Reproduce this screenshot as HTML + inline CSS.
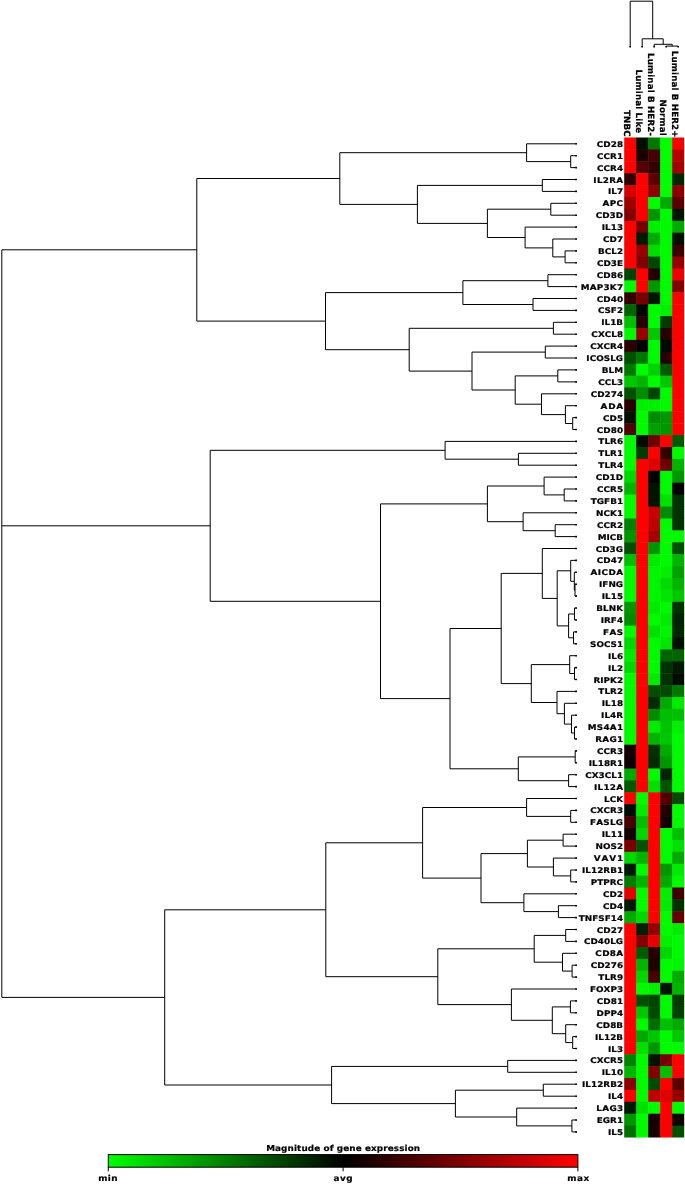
<!DOCTYPE html>
<html lang="en">
<head>
<meta charset="utf-8">
<title>Magnitude of gene expression</title>
<style>
html,body{margin:0;padding:0;background:#fff;}
body{width:685px;height:1184px;overflow:hidden;}
svg{display:block;}
text{font-family:"DejaVu Sans","Liberation Sans",sans-serif;font-weight:bold;font-size:7.8px;fill:#000;stroke:#000;stroke-width:0.2px;font-kerning:none;text-rendering:geometricPrecision;letter-spacing:0.15px;}
.g text{text-anchor:end;}
.c text{text-anchor:end;}
.m text{text-anchor:middle;}
.ln{fill:none;stroke:#000;stroke-width:1;}
.dot{fill:none;stroke:#000;stroke-width:1.6;}
</style>
</head>
<body>
<svg width="685" height="1184" viewBox="0 0 685 1184">
<defs>
<linearGradient id="cb" x1="0" y1="0" x2="1" y2="0">
<stop offset="0" stop-color="#00ff00"/><stop offset="0.5" stop-color="#000000"/><stop offset="1" stop-color="#ff0000"/>
</linearGradient>
</defs>
<rect x="0" y="0" width="685" height="1184" fill="#ffffff"/>
<g>
<rect x="624.2" y="137.5" width="12.5" height="12.4" fill="#ff0000"/><rect x="636.2" y="137.5" width="12.5" height="12.4" fill="#000f00"/><rect x="648.2" y="137.5" width="12.5" height="12.4" fill="#007800"/><rect x="660.2" y="137.5" width="12.5" height="12.4" fill="#00ff00"/><rect x="672.2" y="137.5" width="12" height="12.4" fill="#fa0000"/>
<rect x="624.2" y="149.4" width="12.5" height="12.4" fill="#ff0000"/><rect x="636.2" y="149.4" width="12.5" height="12.4" fill="#1e0000"/><rect x="648.2" y="149.4" width="12.5" height="12.4" fill="#460000"/><rect x="660.2" y="149.4" width="12.5" height="12.4" fill="#00ff00"/><rect x="672.2" y="149.4" width="12" height="12.4" fill="#b90000"/>
<rect x="624.2" y="161.3" width="12.5" height="12.4" fill="#ff0000"/><rect x="636.2" y="161.3" width="12.5" height="12.4" fill="#550000"/><rect x="648.2" y="161.3" width="12.5" height="12.4" fill="#370000"/><rect x="660.2" y="161.3" width="12.5" height="12.4" fill="#00ff00"/><rect x="672.2" y="161.3" width="12" height="12.4" fill="#a50000"/>
<rect x="624.2" y="173.2" width="12.5" height="12.4" fill="#320000"/><rect x="636.2" y="173.2" width="12.5" height="12.4" fill="#ff0000"/><rect x="648.2" y="173.2" width="12.5" height="12.4" fill="#5a0000"/><rect x="660.2" y="173.2" width="12.5" height="12.4" fill="#00ff00"/><rect x="672.2" y="173.2" width="12" height="12.4" fill="#002800"/>
<rect x="624.2" y="185.1" width="12.5" height="12.4" fill="#d70000"/><rect x="636.2" y="185.1" width="12.5" height="12.4" fill="#ff0000"/><rect x="648.2" y="185.1" width="12.5" height="12.4" fill="#8c0000"/><rect x="660.2" y="185.1" width="12.5" height="12.4" fill="#00ff00"/><rect x="672.2" y="185.1" width="12" height="12.4" fill="#8c0000"/>
<rect x="624.2" y="197" width="12.5" height="12.4" fill="#a00000"/><rect x="636.2" y="197" width="12.5" height="12.4" fill="#ff0000"/><rect x="648.2" y="197" width="12.5" height="12.4" fill="#00fa00"/><rect x="660.2" y="197" width="12.5" height="12.4" fill="#00aa00"/><rect x="672.2" y="197" width="12" height="12.4" fill="#5a0000"/>
<rect x="624.2" y="208.9" width="12.5" height="12.4" fill="#820000"/><rect x="636.2" y="208.9" width="12.5" height="12.4" fill="#ff0000"/><rect x="648.2" y="208.9" width="12.5" height="12.4" fill="#009600"/><rect x="660.2" y="208.9" width="12.5" height="12.4" fill="#00fa00"/><rect x="672.2" y="208.9" width="12" height="12.4" fill="#001400"/>
<rect x="624.2" y="220.8" width="12.5" height="12.4" fill="#ff0000"/><rect x="636.2" y="220.8" width="12.5" height="12.4" fill="#780000"/><rect x="648.2" y="220.8" width="12.5" height="12.4" fill="#00f000"/><rect x="660.2" y="220.8" width="12.5" height="12.4" fill="#00fa00"/><rect x="672.2" y="220.8" width="12" height="12.4" fill="#00aa00"/>
<rect x="624.2" y="232.7" width="12.5" height="12.4" fill="#ff0000"/><rect x="636.2" y="232.7" width="12.5" height="12.4" fill="#001900"/><rect x="648.2" y="232.7" width="12.5" height="12.4" fill="#00aa00"/><rect x="660.2" y="232.7" width="12.5" height="12.4" fill="#00fa00"/><rect x="672.2" y="232.7" width="12" height="12.4" fill="#000f00"/>
<rect x="624.2" y="244.6" width="12.5" height="12.4" fill="#ff0000"/><rect x="636.2" y="244.6" width="12.5" height="12.4" fill="#960000"/><rect x="648.2" y="244.6" width="12.5" height="12.4" fill="#00dc00"/><rect x="660.2" y="244.6" width="12.5" height="12.4" fill="#00fa00"/><rect x="672.2" y="244.6" width="12" height="12.4" fill="#3c0000"/>
<rect x="624.2" y="256.6" width="12.5" height="12.4" fill="#ff0000"/><rect x="636.2" y="256.6" width="12.5" height="12.4" fill="#820000"/><rect x="648.2" y="256.6" width="12.5" height="12.4" fill="#004600"/><rect x="660.2" y="256.6" width="12.5" height="12.4" fill="#00fa00"/><rect x="672.2" y="256.6" width="12" height="12.4" fill="#960000"/>
<rect x="624.2" y="268.5" width="12.5" height="12.4" fill="#004600"/><rect x="636.2" y="268.5" width="12.5" height="12.4" fill="#ff0000"/><rect x="648.2" y="268.5" width="12.5" height="12.4" fill="#230000"/><rect x="660.2" y="268.5" width="12.5" height="12.4" fill="#00fa00"/><rect x="672.2" y="268.5" width="12" height="12.4" fill="#f00000"/>
<rect x="624.2" y="280.4" width="12.5" height="12.4" fill="#00fa00"/><rect x="636.2" y="280.4" width="12.5" height="12.4" fill="#ff0000"/><rect x="648.2" y="280.4" width="12.5" height="12.4" fill="#009600"/><rect x="660.2" y="280.4" width="12.5" height="12.4" fill="#00fa00"/><rect x="672.2" y="280.4" width="12" height="12.4" fill="#820000"/>
<rect x="624.2" y="292.3" width="12.5" height="12.4" fill="#320000"/><rect x="636.2" y="292.3" width="12.5" height="12.4" fill="#780000"/><rect x="648.2" y="292.3" width="12.5" height="12.4" fill="#001400"/><rect x="660.2" y="292.3" width="12.5" height="12.4" fill="#00fa00"/><rect x="672.2" y="292.3" width="12" height="12.4" fill="#ff0000"/>
<rect x="624.2" y="304.2" width="12.5" height="12.4" fill="#006400"/><rect x="636.2" y="304.2" width="12.5" height="12.4" fill="#000800"/><rect x="648.2" y="304.2" width="12.5" height="12.4" fill="#00fa00"/><rect x="660.2" y="304.2" width="12.5" height="12.4" fill="#00f000"/><rect x="672.2" y="304.2" width="12" height="12.4" fill="#ff0000"/>
<rect x="624.2" y="316.1" width="12.5" height="12.4" fill="#00be00"/><rect x="636.2" y="316.1" width="12.5" height="12.4" fill="#280000"/><rect x="648.2" y="316.1" width="12.5" height="12.4" fill="#00fa00"/><rect x="660.2" y="316.1" width="12.5" height="12.4" fill="#003c00"/><rect x="672.2" y="316.1" width="12" height="12.4" fill="#ff0000"/>
<rect x="624.2" y="328" width="12.5" height="12.4" fill="#00fa00"/><rect x="636.2" y="328" width="12.5" height="12.4" fill="#960000"/><rect x="648.2" y="328" width="12.5" height="12.4" fill="#00c800"/><rect x="660.2" y="328" width="12.5" height="12.4" fill="#280000"/><rect x="672.2" y="328" width="12" height="12.4" fill="#ff0000"/>
<rect x="624.2" y="339.9" width="12.5" height="12.4" fill="#2d0000"/><rect x="636.2" y="339.9" width="12.5" height="12.4" fill="#000000"/><rect x="648.2" y="339.9" width="12.5" height="12.4" fill="#00fa00"/><rect x="660.2" y="339.9" width="12.5" height="12.4" fill="#000a00"/><rect x="672.2" y="339.9" width="12" height="12.4" fill="#ff0000"/>
<rect x="624.2" y="351.8" width="12.5" height="12.4" fill="#005000"/><rect x="636.2" y="351.8" width="12.5" height="12.4" fill="#007800"/><rect x="648.2" y="351.8" width="12.5" height="12.4" fill="#00fa00"/><rect x="660.2" y="351.8" width="12.5" height="12.4" fill="#280000"/><rect x="672.2" y="351.8" width="12" height="12.4" fill="#ff0000"/>
<rect x="624.2" y="363.7" width="12.5" height="12.4" fill="#007800"/><rect x="636.2" y="363.7" width="12.5" height="12.4" fill="#00fa00"/><rect x="648.2" y="363.7" width="12.5" height="12.4" fill="#00d200"/><rect x="660.2" y="363.7" width="12.5" height="12.4" fill="#005a00"/><rect x="672.2" y="363.7" width="12" height="12.4" fill="#ff0000"/>
<rect x="624.2" y="375.6" width="12.5" height="12.4" fill="#00c800"/><rect x="636.2" y="375.6" width="12.5" height="12.4" fill="#00b400"/><rect x="648.2" y="375.6" width="12.5" height="12.4" fill="#00fa00"/><rect x="660.2" y="375.6" width="12.5" height="12.4" fill="#00c800"/><rect x="672.2" y="375.6" width="12" height="12.4" fill="#ff0000"/>
<rect x="624.2" y="387.5" width="12.5" height="12.4" fill="#005000"/><rect x="636.2" y="387.5" width="12.5" height="12.4" fill="#008c00"/><rect x="648.2" y="387.5" width="12.5" height="12.4" fill="#004600"/><rect x="660.2" y="387.5" width="12.5" height="12.4" fill="#00fa00"/><rect x="672.2" y="387.5" width="12" height="12.4" fill="#ff0000"/>
<rect x="624.2" y="399.4" width="12.5" height="12.4" fill="#280000"/><rect x="636.2" y="399.4" width="12.5" height="12.4" fill="#00f000"/><rect x="648.2" y="399.4" width="12.5" height="12.4" fill="#00f000"/><rect x="660.2" y="399.4" width="12.5" height="12.4" fill="#00fa00"/><rect x="672.2" y="399.4" width="12" height="12.4" fill="#ff0000"/>
<rect x="624.2" y="411.3" width="12.5" height="12.4" fill="#000f00"/><rect x="636.2" y="411.3" width="12.5" height="12.4" fill="#00fa00"/><rect x="648.2" y="411.3" width="12.5" height="12.4" fill="#008c00"/><rect x="660.2" y="411.3" width="12.5" height="12.4" fill="#009600"/><rect x="672.2" y="411.3" width="12" height="12.4" fill="#ff0000"/>
<rect x="624.2" y="423.2" width="12.5" height="12.4" fill="#500000"/><rect x="636.2" y="423.2" width="12.5" height="12.4" fill="#00fa00"/><rect x="648.2" y="423.2" width="12.5" height="12.4" fill="#00a000"/><rect x="660.2" y="423.2" width="12.5" height="12.4" fill="#009600"/><rect x="672.2" y="423.2" width="12" height="12.4" fill="#ff0000"/>
<rect x="624.2" y="435.1" width="12.5" height="12.4" fill="#00fa00"/><rect x="636.2" y="435.1" width="12.5" height="12.4" fill="#000c00"/><rect x="648.2" y="435.1" width="12.5" height="12.4" fill="#6e0000"/><rect x="660.2" y="435.1" width="12.5" height="12.4" fill="#ff0000"/><rect x="672.2" y="435.1" width="12" height="12.4" fill="#005a00"/>
<rect x="624.2" y="447" width="12.5" height="12.4" fill="#00fa00"/><rect x="636.2" y="447" width="12.5" height="12.4" fill="#003c00"/><rect x="648.2" y="447" width="12.5" height="12.4" fill="#ff0000"/><rect x="660.2" y="447" width="12.5" height="12.4" fill="#320000"/><rect x="672.2" y="447" width="12" height="12.4" fill="#00fa00"/>
<rect x="624.2" y="458.9" width="12.5" height="12.4" fill="#00fa00"/><rect x="636.2" y="458.9" width="12.5" height="12.4" fill="#ff0000"/><rect x="648.2" y="458.9" width="12.5" height="12.4" fill="#dc0000"/><rect x="660.2" y="458.9" width="12.5" height="12.4" fill="#6e0000"/><rect x="672.2" y="458.9" width="12" height="12.4" fill="#00b400"/>
<rect x="624.2" y="470.8" width="12.5" height="12.4" fill="#00d700"/><rect x="636.2" y="470.8" width="12.5" height="12.4" fill="#ff0000"/><rect x="648.2" y="470.8" width="12.5" height="12.4" fill="#000000"/><rect x="660.2" y="470.8" width="12.5" height="12.4" fill="#00fa00"/><rect x="672.2" y="470.8" width="12" height="12.4" fill="#009600"/>
<rect x="624.2" y="482.7" width="12.5" height="12.4" fill="#00b400"/><rect x="636.2" y="482.7" width="12.5" height="12.4" fill="#ff0000"/><rect x="648.2" y="482.7" width="12.5" height="12.4" fill="#001400"/><rect x="660.2" y="482.7" width="12.5" height="12.4" fill="#00fa00"/><rect x="672.2" y="482.7" width="12" height="12.4" fill="#000000"/>
<rect x="624.2" y="494.6" width="12.5" height="12.4" fill="#00fa00"/><rect x="636.2" y="494.6" width="12.5" height="12.4" fill="#ff0000"/><rect x="648.2" y="494.6" width="12.5" height="12.4" fill="#001400"/><rect x="660.2" y="494.6" width="12.5" height="12.4" fill="#00e100"/><rect x="672.2" y="494.6" width="12" height="12.4" fill="#003200"/>
<rect x="624.2" y="506.6" width="12.5" height="12.4" fill="#00fa00"/><rect x="636.2" y="506.6" width="12.5" height="12.4" fill="#ff0000"/><rect x="648.2" y="506.6" width="12.5" height="12.4" fill="#c80000"/><rect x="660.2" y="506.6" width="12.5" height="12.4" fill="#008c00"/><rect x="672.2" y="506.6" width="12" height="12.4" fill="#003200"/>
<rect x="624.2" y="518.5" width="12.5" height="12.4" fill="#008200"/><rect x="636.2" y="518.5" width="12.5" height="12.4" fill="#ff0000"/><rect x="648.2" y="518.5" width="12.5" height="12.4" fill="#be0000"/><rect x="660.2" y="518.5" width="12.5" height="12.4" fill="#00fa00"/><rect x="672.2" y="518.5" width="12" height="12.4" fill="#003200"/>
<rect x="624.2" y="530.4" width="12.5" height="12.4" fill="#009600"/><rect x="636.2" y="530.4" width="12.5" height="12.4" fill="#ff0000"/><rect x="648.2" y="530.4" width="12.5" height="12.4" fill="#a50000"/><rect x="660.2" y="530.4" width="12.5" height="12.4" fill="#00fa00"/><rect x="672.2" y="530.4" width="12" height="12.4" fill="#00fa00"/>
<rect x="624.2" y="542.3" width="12.5" height="12.4" fill="#005000"/><rect x="636.2" y="542.3" width="12.5" height="12.4" fill="#ff0000"/><rect x="648.2" y="542.3" width="12.5" height="12.4" fill="#009600"/><rect x="660.2" y="542.3" width="12.5" height="12.4" fill="#00fa00"/><rect x="672.2" y="542.3" width="12" height="12.4" fill="#005000"/>
<rect x="624.2" y="554.2" width="12.5" height="12.4" fill="#00be00"/><rect x="636.2" y="554.2" width="12.5" height="12.4" fill="#ff0000"/><rect x="648.2" y="554.2" width="12.5" height="12.4" fill="#00eb00"/><rect x="660.2" y="554.2" width="12.5" height="12.4" fill="#00fa00"/><rect x="672.2" y="554.2" width="12" height="12.4" fill="#00b400"/>
<rect x="624.2" y="566.1" width="12.5" height="12.4" fill="#00fa00"/><rect x="636.2" y="566.1" width="12.5" height="12.4" fill="#ff0000"/><rect x="648.2" y="566.1" width="12.5" height="12.4" fill="#00f500"/><rect x="660.2" y="566.1" width="12.5" height="12.4" fill="#00f000"/><rect x="672.2" y="566.1" width="12" height="12.4" fill="#00a000"/>
<rect x="624.2" y="578" width="12.5" height="12.4" fill="#00fa00"/><rect x="636.2" y="578" width="12.5" height="12.4" fill="#ff0000"/><rect x="648.2" y="578" width="12.5" height="12.4" fill="#00f500"/><rect x="660.2" y="578" width="12.5" height="12.4" fill="#00dc00"/><rect x="672.2" y="578" width="12" height="12.4" fill="#00b400"/>
<rect x="624.2" y="589.9" width="12.5" height="12.4" fill="#00fa00"/><rect x="636.2" y="589.9" width="12.5" height="12.4" fill="#ff0000"/><rect x="648.2" y="589.9" width="12.5" height="12.4" fill="#00f500"/><rect x="660.2" y="589.9" width="12.5" height="12.4" fill="#00e600"/><rect x="672.2" y="589.9" width="12" height="12.4" fill="#00c800"/>
<rect x="624.2" y="601.8" width="12.5" height="12.4" fill="#009600"/><rect x="636.2" y="601.8" width="12.5" height="12.4" fill="#ff0000"/><rect x="648.2" y="601.8" width="12.5" height="12.4" fill="#00eb00"/><rect x="660.2" y="601.8" width="12.5" height="12.4" fill="#00fa00"/><rect x="672.2" y="601.8" width="12" height="12.4" fill="#003200"/>
<rect x="624.2" y="613.7" width="12.5" height="12.4" fill="#008c00"/><rect x="636.2" y="613.7" width="12.5" height="12.4" fill="#ff0000"/><rect x="648.2" y="613.7" width="12.5" height="12.4" fill="#00fa00"/><rect x="660.2" y="613.7" width="12.5" height="12.4" fill="#00eb00"/><rect x="672.2" y="613.7" width="12" height="12.4" fill="#002300"/>
<rect x="624.2" y="625.6" width="12.5" height="12.4" fill="#00fa00"/><rect x="636.2" y="625.6" width="12.5" height="12.4" fill="#ff0000"/><rect x="648.2" y="625.6" width="12.5" height="12.4" fill="#00e100"/><rect x="660.2" y="625.6" width="12.5" height="12.4" fill="#00f500"/><rect x="672.2" y="625.6" width="12" height="12.4" fill="#002800"/>
<rect x="624.2" y="637.5" width="12.5" height="12.4" fill="#00d700"/><rect x="636.2" y="637.5" width="12.5" height="12.4" fill="#ff0000"/><rect x="648.2" y="637.5" width="12.5" height="12.4" fill="#00fa00"/><rect x="660.2" y="637.5" width="12.5" height="12.4" fill="#00e600"/><rect x="672.2" y="637.5" width="12" height="12.4" fill="#000f00"/>
<rect x="624.2" y="649.4" width="12.5" height="12.4" fill="#00eb00"/><rect x="636.2" y="649.4" width="12.5" height="12.4" fill="#ff0000"/><rect x="648.2" y="649.4" width="12.5" height="12.4" fill="#00fa00"/><rect x="660.2" y="649.4" width="12.5" height="12.4" fill="#006400"/><rect x="672.2" y="649.4" width="12" height="12.4" fill="#006400"/>
<rect x="624.2" y="661.3" width="12.5" height="12.4" fill="#00d700"/><rect x="636.2" y="661.3" width="12.5" height="12.4" fill="#ff0000"/><rect x="648.2" y="661.3" width="12.5" height="12.4" fill="#00fa00"/><rect x="660.2" y="661.3" width="12.5" height="12.4" fill="#003200"/><rect x="672.2" y="661.3" width="12" height="12.4" fill="#001900"/>
<rect x="624.2" y="673.2" width="12.5" height="12.4" fill="#00fa00"/><rect x="636.2" y="673.2" width="12.5" height="12.4" fill="#ff0000"/><rect x="648.2" y="673.2" width="12.5" height="12.4" fill="#00eb00"/><rect x="660.2" y="673.2" width="12.5" height="12.4" fill="#003200"/><rect x="672.2" y="673.2" width="12" height="12.4" fill="#000c00"/>
<rect x="624.2" y="685.1" width="12.5" height="12.4" fill="#00fa00"/><rect x="636.2" y="685.1" width="12.5" height="12.4" fill="#ff0000"/><rect x="648.2" y="685.1" width="12.5" height="12.4" fill="#005000"/><rect x="660.2" y="685.1" width="12.5" height="12.4" fill="#004b00"/><rect x="672.2" y="685.1" width="12" height="12.4" fill="#007800"/>
<rect x="624.2" y="697" width="12.5" height="12.4" fill="#00fa00"/><rect x="636.2" y="697" width="12.5" height="12.4" fill="#ff0000"/><rect x="648.2" y="697" width="12.5" height="12.4" fill="#002d00"/><rect x="660.2" y="697" width="12.5" height="12.4" fill="#00aa00"/><rect x="672.2" y="697" width="12" height="12.4" fill="#00eb00"/>
<rect x="624.2" y="708.9" width="12.5" height="12.4" fill="#00fa00"/><rect x="636.2" y="708.9" width="12.5" height="12.4" fill="#ff0000"/><rect x="648.2" y="708.9" width="12.5" height="12.4" fill="#008c00"/><rect x="660.2" y="708.9" width="12.5" height="12.4" fill="#00be00"/><rect x="672.2" y="708.9" width="12" height="12.4" fill="#00be00"/>
<rect x="624.2" y="720.8" width="12.5" height="12.4" fill="#00fa00"/><rect x="636.2" y="720.8" width="12.5" height="12.4" fill="#ff0000"/><rect x="648.2" y="720.8" width="12.5" height="12.4" fill="#00eb00"/><rect x="660.2" y="720.8" width="12.5" height="12.4" fill="#00c300"/><rect x="672.2" y="720.8" width="12" height="12.4" fill="#00f000"/>
<rect x="624.2" y="732.8" width="12.5" height="12.4" fill="#00fa00"/><rect x="636.2" y="732.8" width="12.5" height="12.4" fill="#ff0000"/><rect x="648.2" y="732.8" width="12.5" height="12.4" fill="#00b400"/><rect x="660.2" y="732.8" width="12.5" height="12.4" fill="#00c800"/><rect x="672.2" y="732.8" width="12" height="12.4" fill="#00fa00"/>
<rect x="624.2" y="744.7" width="12.5" height="12.4" fill="#190000"/><rect x="636.2" y="744.7" width="12.5" height="12.4" fill="#ff0000"/><rect x="648.2" y="744.7" width="12.5" height="12.4" fill="#003200"/><rect x="660.2" y="744.7" width="12.5" height="12.4" fill="#00aa00"/><rect x="672.2" y="744.7" width="12" height="12.4" fill="#00fa00"/>
<rect x="624.2" y="756.6" width="12.5" height="12.4" fill="#0f0000"/><rect x="636.2" y="756.6" width="12.5" height="12.4" fill="#ff0000"/><rect x="648.2" y="756.6" width="12.5" height="12.4" fill="#002d00"/><rect x="660.2" y="756.6" width="12.5" height="12.4" fill="#009600"/><rect x="672.2" y="756.6" width="12" height="12.4" fill="#00fa00"/>
<rect x="624.2" y="768.5" width="12.5" height="12.4" fill="#00aa00"/><rect x="636.2" y="768.5" width="12.5" height="12.4" fill="#ff0000"/><rect x="648.2" y="768.5" width="12.5" height="12.4" fill="#00fa00"/><rect x="660.2" y="768.5" width="12.5" height="12.4" fill="#002300"/><rect x="672.2" y="768.5" width="12" height="12.4" fill="#00fa00"/>
<rect x="624.2" y="780.4" width="12.5" height="12.4" fill="#005a00"/><rect x="636.2" y="780.4" width="12.5" height="12.4" fill="#ff0000"/><rect x="648.2" y="780.4" width="12.5" height="12.4" fill="#00e100"/><rect x="660.2" y="780.4" width="12.5" height="12.4" fill="#005500"/><rect x="672.2" y="780.4" width="12" height="12.4" fill="#00fa00"/>
<rect x="624.2" y="792.3" width="12.5" height="12.4" fill="#ff0000"/><rect x="636.2" y="792.3" width="12.5" height="12.4" fill="#00fa00"/><rect x="648.2" y="792.3" width="12.5" height="12.4" fill="#ff0000"/><rect x="660.2" y="792.3" width="12.5" height="12.4" fill="#500000"/><rect x="672.2" y="792.3" width="12" height="12.4" fill="#004b00"/>
<rect x="624.2" y="804.2" width="12.5" height="12.4" fill="#000c00"/><rect x="636.2" y="804.2" width="12.5" height="12.4" fill="#00eb00"/><rect x="648.2" y="804.2" width="12.5" height="12.4" fill="#ff0000"/><rect x="660.2" y="804.2" width="12.5" height="12.4" fill="#230000"/><rect x="672.2" y="804.2" width="12" height="12.4" fill="#00fa00"/>
<rect x="624.2" y="816.1" width="12.5" height="12.4" fill="#460000"/><rect x="636.2" y="816.1" width="12.5" height="12.4" fill="#00be00"/><rect x="648.2" y="816.1" width="12.5" height="12.4" fill="#ff0000"/><rect x="660.2" y="816.1" width="12.5" height="12.4" fill="#140000"/><rect x="672.2" y="816.1" width="12" height="12.4" fill="#00fa00"/>
<rect x="624.2" y="828" width="12.5" height="12.4" fill="#140000"/><rect x="636.2" y="828" width="12.5" height="12.4" fill="#00d700"/><rect x="648.2" y="828" width="12.5" height="12.4" fill="#ff0000"/><rect x="660.2" y="828" width="12.5" height="12.4" fill="#00fa00"/><rect x="672.2" y="828" width="12" height="12.4" fill="#00be00"/>
<rect x="624.2" y="839.9" width="12.5" height="12.4" fill="#780000"/><rect x="636.2" y="839.9" width="12.5" height="12.4" fill="#005500"/><rect x="648.2" y="839.9" width="12.5" height="12.4" fill="#ff0000"/><rect x="660.2" y="839.9" width="12.5" height="12.4" fill="#00fa00"/><rect x="672.2" y="839.9" width="12" height="12.4" fill="#00e100"/>
<rect x="624.2" y="851.8" width="12.5" height="12.4" fill="#00d700"/><rect x="636.2" y="851.8" width="12.5" height="12.4" fill="#00b400"/><rect x="648.2" y="851.8" width="12.5" height="12.4" fill="#ff0000"/><rect x="660.2" y="851.8" width="12.5" height="12.4" fill="#00fa00"/><rect x="672.2" y="851.8" width="12" height="12.4" fill="#00aa00"/>
<rect x="624.2" y="863.7" width="12.5" height="12.4" fill="#001900"/><rect x="636.2" y="863.7" width="12.5" height="12.4" fill="#00fa00"/><rect x="648.2" y="863.7" width="12.5" height="12.4" fill="#ff0000"/><rect x="660.2" y="863.7" width="12.5" height="12.4" fill="#009600"/><rect x="672.2" y="863.7" width="12" height="12.4" fill="#00eb00"/>
<rect x="624.2" y="875.6" width="12.5" height="12.4" fill="#007d00"/><rect x="636.2" y="875.6" width="12.5" height="12.4" fill="#00b400"/><rect x="648.2" y="875.6" width="12.5" height="12.4" fill="#ff0000"/><rect x="660.2" y="875.6" width="12.5" height="12.4" fill="#00aa00"/><rect x="672.2" y="875.6" width="12" height="12.4" fill="#00fa00"/>
<rect x="624.2" y="887.5" width="12.5" height="12.4" fill="#e60000"/><rect x="636.2" y="887.5" width="12.5" height="12.4" fill="#00fa00"/><rect x="648.2" y="887.5" width="12.5" height="12.4" fill="#ff0000"/><rect x="660.2" y="887.5" width="12.5" height="12.4" fill="#00f000"/><rect x="672.2" y="887.5" width="12" height="12.4" fill="#410000"/>
<rect x="624.2" y="899.4" width="12.5" height="12.4" fill="#001900"/><rect x="636.2" y="899.4" width="12.5" height="12.4" fill="#00fa00"/><rect x="648.2" y="899.4" width="12.5" height="12.4" fill="#ff0000"/><rect x="660.2" y="899.4" width="12.5" height="12.4" fill="#00eb00"/><rect x="672.2" y="899.4" width="12" height="12.4" fill="#003200"/>
<rect x="624.2" y="911.3" width="12.5" height="12.4" fill="#00aa00"/><rect x="636.2" y="911.3" width="12.5" height="12.4" fill="#00d700"/><rect x="648.2" y="911.3" width="12.5" height="12.4" fill="#ff0000"/><rect x="660.2" y="911.3" width="12.5" height="12.4" fill="#00fa00"/><rect x="672.2" y="911.3" width="12" height="12.4" fill="#640000"/>
<rect x="624.2" y="923.2" width="12.5" height="12.4" fill="#ff0000"/><rect x="636.2" y="923.2" width="12.5" height="12.4" fill="#001e00"/><rect x="648.2" y="923.2" width="12.5" height="12.4" fill="#960000"/><rect x="660.2" y="923.2" width="12.5" height="12.4" fill="#00fa00"/><rect x="672.2" y="923.2" width="12" height="12.4" fill="#00eb00"/>
<rect x="624.2" y="935.1" width="12.5" height="12.4" fill="#ff0000"/><rect x="636.2" y="935.1" width="12.5" height="12.4" fill="#820000"/><rect x="648.2" y="935.1" width="12.5" height="12.4" fill="#e60000"/><rect x="660.2" y="935.1" width="12.5" height="12.4" fill="#00f000"/><rect x="672.2" y="935.1" width="12" height="12.4" fill="#00fa00"/>
<rect x="624.2" y="947" width="12.5" height="12.4" fill="#ff0000"/><rect x="636.2" y="947" width="12.5" height="12.4" fill="#005a00"/><rect x="648.2" y="947" width="12.5" height="12.4" fill="#280000"/><rect x="660.2" y="947" width="12.5" height="12.4" fill="#00d700"/><rect x="672.2" y="947" width="12" height="12.4" fill="#00fa00"/>
<rect x="624.2" y="958.9" width="12.5" height="12.4" fill="#ff0000"/><rect x="636.2" y="958.9" width="12.5" height="12.4" fill="#00b400"/><rect x="648.2" y="958.9" width="12.5" height="12.4" fill="#230000"/><rect x="660.2" y="958.9" width="12.5" height="12.4" fill="#00fa00"/><rect x="672.2" y="958.9" width="12" height="12.4" fill="#00f500"/>
<rect x="624.2" y="970.8" width="12.5" height="12.4" fill="#ff0000"/><rect x="636.2" y="970.8" width="12.5" height="12.4" fill="#00d700"/><rect x="648.2" y="970.8" width="12.5" height="12.4" fill="#4b0000"/><rect x="660.2" y="970.8" width="12.5" height="12.4" fill="#00fa00"/><rect x="672.2" y="970.8" width="12" height="12.4" fill="#00aa00"/>
<rect x="624.2" y="982.8" width="12.5" height="12.4" fill="#ff0000"/><rect x="636.2" y="982.8" width="12.5" height="12.4" fill="#00fa00"/><rect x="648.2" y="982.8" width="12.5" height="12.4" fill="#00f000"/><rect x="660.2" y="982.8" width="12.5" height="12.4" fill="#001400"/><rect x="672.2" y="982.8" width="12" height="12.4" fill="#00b400"/>
<rect x="624.2" y="994.7" width="12.5" height="12.4" fill="#ff0000"/><rect x="636.2" y="994.7" width="12.5" height="12.4" fill="#005000"/><rect x="648.2" y="994.7" width="12.5" height="12.4" fill="#004600"/><rect x="660.2" y="994.7" width="12.5" height="12.4" fill="#00fa00"/><rect x="672.2" y="994.7" width="12" height="12.4" fill="#003c00"/>
<rect x="624.2" y="1006.6" width="12.5" height="12.4" fill="#ff0000"/><rect x="636.2" y="1006.6" width="12.5" height="12.4" fill="#00c800"/><rect x="648.2" y="1006.6" width="12.5" height="12.4" fill="#004b00"/><rect x="660.2" y="1006.6" width="12.5" height="12.4" fill="#00fa00"/><rect x="672.2" y="1006.6" width="12" height="12.4" fill="#004100"/>
<rect x="624.2" y="1018.5" width="12.5" height="12.4" fill="#ff0000"/><rect x="636.2" y="1018.5" width="12.5" height="12.4" fill="#00fa00"/><rect x="648.2" y="1018.5" width="12.5" height="12.4" fill="#006e00"/><rect x="660.2" y="1018.5" width="12.5" height="12.4" fill="#00be00"/><rect x="672.2" y="1018.5" width="12" height="12.4" fill="#00aa00"/>
<rect x="624.2" y="1030.4" width="12.5" height="12.4" fill="#ff0000"/><rect x="636.2" y="1030.4" width="12.5" height="12.4" fill="#00aa00"/><rect x="648.2" y="1030.4" width="12.5" height="12.4" fill="#00c800"/><rect x="660.2" y="1030.4" width="12.5" height="12.4" fill="#00fa00"/><rect x="672.2" y="1030.4" width="12" height="12.4" fill="#00c800"/>
<rect x="624.2" y="1042.3" width="12.5" height="12.4" fill="#ff0000"/><rect x="636.2" y="1042.3" width="12.5" height="12.4" fill="#00e100"/><rect x="648.2" y="1042.3" width="12.5" height="12.4" fill="#009600"/><rect x="660.2" y="1042.3" width="12.5" height="12.4" fill="#00fa00"/><rect x="672.2" y="1042.3" width="12" height="12.4" fill="#00fa00"/>
<rect x="624.2" y="1054.2" width="12.5" height="12.4" fill="#008200"/><rect x="636.2" y="1054.2" width="12.5" height="12.4" fill="#00fa00"/><rect x="648.2" y="1054.2" width="12.5" height="12.4" fill="#001400"/><rect x="660.2" y="1054.2" width="12.5" height="12.4" fill="#780000"/><rect x="672.2" y="1054.2" width="12" height="12.4" fill="#ff0000"/>
<rect x="624.2" y="1066.1" width="12.5" height="12.4" fill="#00b400"/><rect x="636.2" y="1066.1" width="12.5" height="12.4" fill="#00fa00"/><rect x="648.2" y="1066.1" width="12.5" height="12.4" fill="#820000"/><rect x="660.2" y="1066.1" width="12.5" height="12.4" fill="#00be00"/><rect x="672.2" y="1066.1" width="12" height="12.4" fill="#ff0000"/>
<rect x="624.2" y="1078" width="12.5" height="12.4" fill="#8c0000"/><rect x="636.2" y="1078" width="12.5" height="12.4" fill="#00fa00"/><rect x="648.2" y="1078" width="12.5" height="12.4" fill="#004b00"/><rect x="660.2" y="1078" width="12.5" height="12.4" fill="#ff0000"/><rect x="672.2" y="1078" width="12" height="12.4" fill="#5a0000"/>
<rect x="624.2" y="1089.9" width="12.5" height="12.4" fill="#ff0000"/><rect x="636.2" y="1089.9" width="12.5" height="12.4" fill="#00fa00"/><rect x="648.2" y="1089.9" width="12.5" height="12.4" fill="#be0000"/><rect x="660.2" y="1089.9" width="12.5" height="12.4" fill="#e10000"/><rect x="672.2" y="1089.9" width="12" height="12.4" fill="#960000"/>
<rect x="624.2" y="1101.8" width="12.5" height="12.4" fill="#001900"/><rect x="636.2" y="1101.8" width="12.5" height="12.4" fill="#00e100"/><rect x="648.2" y="1101.8" width="12.5" height="12.4" fill="#00fa00"/><rect x="660.2" y="1101.8" width="12.5" height="12.4" fill="#ff0000"/><rect x="672.2" y="1101.8" width="12" height="12.4" fill="#00fa00"/>
<rect x="624.2" y="1113.7" width="12.5" height="12.4" fill="#009600"/><rect x="636.2" y="1113.7" width="12.5" height="12.4" fill="#00fa00"/><rect x="648.2" y="1113.7" width="12.5" height="12.4" fill="#140000"/><rect x="660.2" y="1113.7" width="12.5" height="12.4" fill="#ff0000"/><rect x="672.2" y="1113.7" width="12" height="12.4" fill="#0f0000"/>
<rect x="624.2" y="1125.6" width="12.5" height="11.9" fill="#006e00"/><rect x="636.2" y="1125.6" width="12.5" height="11.9" fill="#00fa00"/><rect x="648.2" y="1125.6" width="12.5" height="11.9" fill="#190000"/><rect x="660.2" y="1125.6" width="12.5" height="11.9" fill="#ff0000"/><rect x="672.2" y="1125.6" width="12" height="11.9" fill="#005000"/>
</g>
<path class="ln" d="M576.7 155.7H570.7V167.6H576.7M576.7 143.8H526.6V161.6H570.7M576.7 179.5H542.3V191.4H576.7M576.7 203.3H550.8V215.2H576.7M576.7 250.9H565.1V262.8H576.7M576.7 239H552.8V256.9H565.1M576.7 227.1H525.1V247.9H552.8M550.8 209.2H487.4V237.5H525.1M542.3 185.4H417.4V223.4H487.4M526.6 152.7H339.8V204.4H417.4M576.7 274.7H547.9V286.6H576.7M576.7 298.5H533V310.4H576.7M547.9 280.7H462.9V304.5H533M576.7 322.3H553.4V334.2H576.7M576.7 346.1H545.3V358H576.7M576.7 369.9H557.8V381.9H576.7M576.7 417.6H572.7V429.5H576.7M576.7 405.7H565.4V423.5H572.7M576.7 393.8H541.5V414.6H565.4M557.8 375.9H515.2V404.2H541.5M545.3 352.1H472V390H515.2M553.4 328.3H409.2V371.1H472M462.9 292.6H325.5V349.7H409.2M339.8 178.5H196.8V321.1H325.5M576.7 453.3H518.4V465.2H576.7M576.7 441.4H445.1V459.2H518.4M576.7 489H564.2V500.9H576.7M576.7 477.1H544.1V494.9H564.2M576.7 524.7H555.2V536.6H576.7M576.7 512.8H523.1V530.7H555.2M544.1 486H487.4V521.7H523.1M576.7 584.2H575V596.1H576.7M576.7 572.3H574.3V590.2H575M576.7 560.4H570.7V581.3H574.3M576.7 608H574.5V620H576.7M576.7 631.9H573.5V643.8H576.7M574.5 614H568.6V637.8H573.5M570.7 570.8H557.2V625.9H568.6M576.7 548.5H542.3V598.4H557.2M576.7 667.6H574.5V679.5H576.7M576.7 655.7H569.7V673.5H574.5M576.7 727.1H574.5V739H576.7M576.7 715.2H571.5V733H574.5M576.7 703.3H564.4V724.1H571.5M576.7 691.4H557V713.7H564.4M569.7 664.6H531.3V702.5H557M542.3 573.4H501.2V683.6H531.3M576.7 750.9H575.2V762.8H576.7M576.7 774.7H568.6V786.6H576.7M575.2 756.9H518.3V780.7H568.6M501.2 628.5H450V768.8H518.3M487.4 503.9H380.5V698.6H450M445.1 450.3H210.2V601.3H380.5M576.7 810.4H570.7V822.3H576.7M576.7 798.5H526.6V816.4H570.7M576.7 834.2H563.1V846.1H576.7M576.7 870H570.7V881.9H576.7M576.7 858.1H553.4V875.9H570.7M563.1 840.2H527.4V867H553.4M576.7 905.7H558.4V917.6H576.7M576.7 893.8H523.9V911.6H558.4M527.4 853.6H481V902.7H523.9M526.6 807.5H422.6V878.1H481M576.7 929.5H565.7V941.4H576.7M576.7 965.2H572.1V977.1H576.7M576.7 953.3H562.5V971.1H572.1M565.7 935.4H534.2V962.2H562.5M576.7 1000.9H570.4V1012.8H576.7M576.7 1036.6H572.7V1048.5H576.7M576.7 1024.7H565.7V1042.6H572.7M570.4 1006.9H552.3V1033.7H565.7M576.7 989H511.4V1020.3H552.3M534.2 948.8H437.8V1004.6H511.4M422.6 842.8H325.8V976.7H437.8M576.7 1060.4H507.7V1072.3H576.7M576.7 1084.2H543.3V1096.2H576.7M576.7 1120H571.9V1131.9H576.7M576.7 1108.1H516.7V1125.9H571.9M543.3 1090.2H455.4V1117H516.7M507.7 1066.4H331.6V1103.6H455.4M325.8 909.8H164.7V1085H331.6M196.8 249.8H1.8V997.4H164.7M1.8 525.8H210.2"/>
<path class="dot" d="M575.3 143.8h1.6M575.3 155.7h1.6M575.3 167.6h1.6M575.3 179.5h1.6M575.3 191.4h1.6M575.3 203.3h1.6M575.3 215.2h1.6M575.3 227.1h1.6M575.3 239h1.6M575.3 250.9h1.6M575.3 262.8h1.6M575.3 274.7h1.6M575.3 286.6h1.6M575.3 298.5h1.6M575.3 310.4h1.6M575.3 322.3h1.6M575.3 334.2h1.6M575.3 346.1h1.6M575.3 358h1.6M575.3 369.9h1.6M575.3 381.9h1.6M575.3 393.8h1.6M575.3 405.7h1.6M575.3 417.6h1.6M575.3 429.5h1.6M575.3 441.4h1.6M575.3 453.3h1.6M575.3 465.2h1.6M575.3 477.1h1.6M575.3 489h1.6M575.3 500.9h1.6M575.3 512.8h1.6M575.3 524.7h1.6M575.3 536.6h1.6M575.3 548.5h1.6M575.3 560.4h1.6M575.3 572.3h1.6M575.3 584.2h1.6M575.3 596.1h1.6M575.3 608h1.6M575.3 620h1.6M575.3 631.9h1.6M575.3 643.8h1.6M575.3 655.7h1.6M575.3 667.6h1.6M575.3 679.5h1.6M575.3 691.4h1.6M575.3 703.3h1.6M575.3 715.2h1.6M575.3 727.1h1.6M575.3 739h1.6M575.3 750.9h1.6M575.3 762.8h1.6M575.3 774.7h1.6M575.3 786.6h1.6M575.3 798.5h1.6M575.3 810.4h1.6M575.3 822.3h1.6M575.3 834.2h1.6M575.3 846.1h1.6M575.3 858.1h1.6M575.3 870h1.6M575.3 881.9h1.6M575.3 893.8h1.6M575.3 905.7h1.6M575.3 917.6h1.6M575.3 929.5h1.6M575.3 941.4h1.6M575.3 953.3h1.6M575.3 965.2h1.6M575.3 977.1h1.6M575.3 989h1.6M575.3 1000.9h1.6M575.3 1012.8h1.6M575.3 1024.7h1.6M575.3 1036.6h1.6M575.3 1048.5h1.6M575.3 1060.4h1.6M575.3 1072.3h1.6M575.3 1084.2h1.6M575.3 1096.2h1.6M575.3 1108.1h1.6M575.3 1120h1.6M575.3 1131.9h1.6"/>
<path class="ln" d="M666.2 47V46.1H678.2V47M654.2 47V44.3H672.2V46.1M642.2 47V38.8H663.2V44.3M630.2 47V1.2H652.7V38.8"/>
<path class="dot" d="M630.2 46v1.4M642.2 46v1.4M654.2 46v1.4M666.2 46v1.4M678.2 46v1.4"/>
<g class="g">
<text transform="translate(623.1 146.8) scale(1.135 1)" style="letter-spacing:0.02px">CD28</text>
<text transform="translate(623.1 158.7) scale(1.135 1)" style="letter-spacing:0.02px">CCR1</text>
<text transform="translate(623.1 170.6) scale(1.135 1)" style="letter-spacing:0.02px">CCR4</text>
<text transform="translate(623.3 182.5) scale(1.135 1)" style="letter-spacing:0.21px">IL2RA</text>
<text transform="translate(623.1 194.4) scale(1.135 1)" style="letter-spacing:0.02px">IL7</text>
<text transform="translate(623.5 206.3) scale(1.135 1)" style="letter-spacing:0.34px">APC</text>
<text transform="translate(623.1 218.2) scale(1.135 1)" style="letter-spacing:0.02px">CD3D</text>
<text transform="translate(623.1 230.1) scale(1.135 1)" style="letter-spacing:0.02px">IL13</text>
<text transform="translate(623.1 242) scale(1.135 1)" style="letter-spacing:0.02px">CD7</text>
<text transform="translate(623.1 253.9) scale(1.135 1)" style="letter-spacing:0.02px">BCL2</text>
<text transform="translate(623.1 265.8) scale(1.135 1)" style="letter-spacing:0.02px">CD3E</text>
<text transform="translate(623.1 277.7) scale(1.135 1)" style="letter-spacing:0.02px">CD86</text>
<text transform="translate(623.3 289.6) scale(1.135 1)" style="letter-spacing:0.18px">MAP3K7</text>
<text transform="translate(623.1 301.5) scale(1.135 1)" style="letter-spacing:0.02px">CD40</text>
<text transform="translate(623.1 313.4) scale(1.135 1)" style="letter-spacing:0.02px">CSF2</text>
<text transform="translate(623.1 325.3) scale(1.135 1)" style="letter-spacing:0.02px">IL1B</text>
<text transform="translate(623.1 337.2) scale(1.135 1)" style="letter-spacing:0.02px">CXCL8</text>
<text transform="translate(623.1 349.1) scale(1.135 1)" style="letter-spacing:0.02px">CXCR4</text>
<text transform="translate(623.1 361) scale(1.135 1)" style="letter-spacing:0.02px">ICOSLG</text>
<text transform="translate(623.1 372.9) scale(1.135 1)" style="letter-spacing:0.02px">BLM</text>
<text transform="translate(623.1 384.9) scale(1.135 1)" style="letter-spacing:0.02px">CCL3</text>
<text transform="translate(623.1 396.8) scale(1.135 1)" style="letter-spacing:0.02px">CD274</text>
<text transform="translate(623.9 408.7) scale(1.135 1)" style="letter-spacing:0.66px">ADA</text>
<text transform="translate(623.1 420.6) scale(1.135 1)" style="letter-spacing:0.02px">CD5</text>
<text transform="translate(623.1 432.5) scale(1.135 1)" style="letter-spacing:0.02px">CD80</text>
<text transform="translate(623.1 444.4) scale(1.135 1)" style="letter-spacing:0.02px">TLR6</text>
<text transform="translate(623.1 456.3) scale(1.135 1)" style="letter-spacing:0.02px">TLR1</text>
<text transform="translate(623.1 468.2) scale(1.135 1)" style="letter-spacing:0.02px">TLR4</text>
<text transform="translate(623.1 480.1) scale(1.135 1)" style="letter-spacing:0.02px">CD1D</text>
<text transform="translate(623.1 492) scale(1.135 1)" style="letter-spacing:0.02px">CCR5</text>
<text transform="translate(623.1 503.9) scale(1.135 1)" style="letter-spacing:0.02px">TGFB1</text>
<text transform="translate(623.1 515.8) scale(1.135 1)" style="letter-spacing:0.02px">NCK1</text>
<text transform="translate(623.1 527.7) scale(1.135 1)" style="letter-spacing:0.02px">CCR2</text>
<text transform="translate(623.1 539.6) scale(1.135 1)" style="letter-spacing:0.02px">MICB</text>
<text transform="translate(623.1 551.5) scale(1.135 1)" style="letter-spacing:0.02px">CD3G</text>
<text transform="translate(623.1 563.4) scale(1.135 1)" style="letter-spacing:0.02px">CD47</text>
<text transform="translate(623.6 575.3) scale(1.135 1)" style="letter-spacing:0.41px">AICDA</text>
<text transform="translate(623.1 587.2) scale(1.135 1)" style="letter-spacing:0.02px">IFNG</text>
<text transform="translate(623.1 599.1) scale(1.135 1)" style="letter-spacing:0.02px">IL15</text>
<text transform="translate(623.1 611) scale(1.135 1)" style="letter-spacing:0.02px">BLNK</text>
<text transform="translate(623.1 623) scale(1.135 1)" style="letter-spacing:0.02px">IRF4</text>
<text transform="translate(623.5 634.9) scale(1.135 1)" style="letter-spacing:0.34px">FAS</text>
<text transform="translate(623.1 646.8) scale(1.135 1)" style="letter-spacing:0.02px">SOCS1</text>
<text transform="translate(623.1 658.7) scale(1.135 1)" style="letter-spacing:0.02px">IL6</text>
<text transform="translate(623.1 670.6) scale(1.135 1)" style="letter-spacing:0.02px">IL2</text>
<text transform="translate(623.1 682.5) scale(1.135 1)" style="letter-spacing:0.02px">RIPK2</text>
<text transform="translate(623.1 694.4) scale(1.135 1)" style="letter-spacing:0.02px">TLR2</text>
<text transform="translate(623.1 706.3) scale(1.135 1)" style="letter-spacing:0.02px">IL18</text>
<text transform="translate(623.1 718.2) scale(1.135 1)" style="letter-spacing:0.02px">IL4R</text>
<text transform="translate(623.3 730.1) scale(1.135 1)" style="letter-spacing:0.21px">MS4A1</text>
<text transform="translate(623.4 742) scale(1.135 1)" style="letter-spacing:0.26px">RAG1</text>
<text transform="translate(623.1 753.9) scale(1.135 1)" style="letter-spacing:0.02px">CCR3</text>
<text transform="translate(623.1 765.8) scale(1.135 1)" style="letter-spacing:0.02px">IL18R1</text>
<text transform="translate(623.1 777.7) scale(1.135 1)" style="letter-spacing:0.02px">CX3CL1</text>
<text transform="translate(623.3 789.6) scale(1.135 1)" style="letter-spacing:0.21px">IL12A</text>
<text transform="translate(623.1 801.5) scale(1.135 1)" style="letter-spacing:0.02px">LCK</text>
<text transform="translate(623.1 813.4) scale(1.135 1)" style="letter-spacing:0.02px">CXCR3</text>
<text transform="translate(623.3 825.3) scale(1.135 1)" style="letter-spacing:0.21px">FASLG</text>
<text transform="translate(623.1 837.2) scale(1.135 1)" style="letter-spacing:0.02px">IL11</text>
<text transform="translate(623.1 849.1) scale(1.135 1)" style="letter-spacing:0.02px">NOS2</text>
<text transform="translate(623.9 861.1) scale(1.135 1)" style="letter-spacing:0.74px">VAV1</text>
<text transform="translate(623.1 873) scale(1.135 1)" style="letter-spacing:0.02px">IL12RB1</text>
<text transform="translate(623.1 884.9) scale(1.135 1)" style="letter-spacing:0.02px">PTPRC</text>
<text transform="translate(623.1 896.8) scale(1.135 1)" style="letter-spacing:0.02px">CD2</text>
<text transform="translate(623.1 908.7) scale(1.135 1)" style="letter-spacing:0.02px">CD4</text>
<text transform="translate(623.1 920.6) scale(1.135 1)" style="letter-spacing:0.02px">TNFSF14</text>
<text transform="translate(623.1 932.5) scale(1.135 1)" style="letter-spacing:0.02px">CD27</text>
<text transform="translate(623.1 944.4) scale(1.135 1)" style="letter-spacing:0.02px">CD40LG</text>
<text transform="translate(623.4 956.3) scale(1.135 1)" style="letter-spacing:0.26px">CD8A</text>
<text transform="translate(623.1 968.2) scale(1.135 1)" style="letter-spacing:0.02px">CD276</text>
<text transform="translate(623.1 980.1) scale(1.135 1)" style="letter-spacing:0.02px">TLR9</text>
<text transform="translate(623.1 992) scale(1.135 1)" style="letter-spacing:0.02px">FOXP3</text>
<text transform="translate(623.1 1003.9) scale(1.135 1)" style="letter-spacing:0.02px">CD81</text>
<text transform="translate(623.1 1015.8) scale(1.135 1)" style="letter-spacing:0.02px">DPP4</text>
<text transform="translate(623.1 1027.7) scale(1.135 1)" style="letter-spacing:0.02px">CD8B</text>
<text transform="translate(623.1 1039.6) scale(1.135 1)" style="letter-spacing:0.02px">IL12B</text>
<text transform="translate(623.1 1051.5) scale(1.135 1)" style="letter-spacing:0.02px">IL3</text>
<text transform="translate(623.1 1063.4) scale(1.135 1)" style="letter-spacing:0.02px">CXCR5</text>
<text transform="translate(623.1 1075.3) scale(1.135 1)" style="letter-spacing:0.02px">IL10</text>
<text transform="translate(623.1 1087.2) scale(1.135 1)" style="letter-spacing:0.02px">IL12RB2</text>
<text transform="translate(623.1 1099.2) scale(1.135 1)" style="letter-spacing:0.02px">IL4</text>
<text transform="translate(623.4 1111.1) scale(1.135 1)" style="letter-spacing:0.26px">LAG3</text>
<text transform="translate(623.1 1123) scale(1.135 1)" style="letter-spacing:0.02px">EGR1</text>
<text transform="translate(623.1 1134.9) scale(1.135 1)" style="letter-spacing:0.02px">IL5</text>
</g>
<g class="c">
<text transform="translate(624.2 136.7) rotate(90)" style="font-size:8.7px">TNBC</text>
<text transform="translate(636.2 133.4) rotate(90)" style="font-size:8.7px">Luminal Like</text>
<text transform="translate(648.2 136.2) rotate(90)" style="font-size:8.7px">Luminal B HER2-</text>
<text transform="translate(660.2 135.9) rotate(90)" style="font-size:8.7px">Normal</text>
<text transform="translate(672.2 137.7) rotate(90)" style="font-size:8.7px">Luminal B HER2+</text>
</g>
<rect x="108.3" y="1154.6" width="469.6" height="12.6" fill="url(#cb)" stroke="#000" stroke-width="1"/>
<path class="ln" d="M108.3 1167.2V1171.3M343.1 1167.2V1171.3M577.9 1167.2V1171.3"/>
<g class="m">
<text transform="translate(343.2 1151.1) scale(1.09 1)" style="font-size:8.1px;letter-spacing:0.1px;stroke-width:0.2px">Magnitude of gene expression</text>
<text transform="translate(108.05 1181.1) scale(1.08 1)" style="font-size:8.2px;letter-spacing:0.4px;stroke-width:0.2px">min</text>
<text transform="translate(343.25 1181.1) scale(1.08 1)" style="font-size:8.2px;letter-spacing:0.4px;stroke-width:0.2px">avg</text>
<text transform="translate(578.45 1181.1) scale(1.08 1)" style="font-size:8.2px;letter-spacing:0.4px;stroke-width:0.2px">max</text>
</g>
</svg>
</body>
</html>
